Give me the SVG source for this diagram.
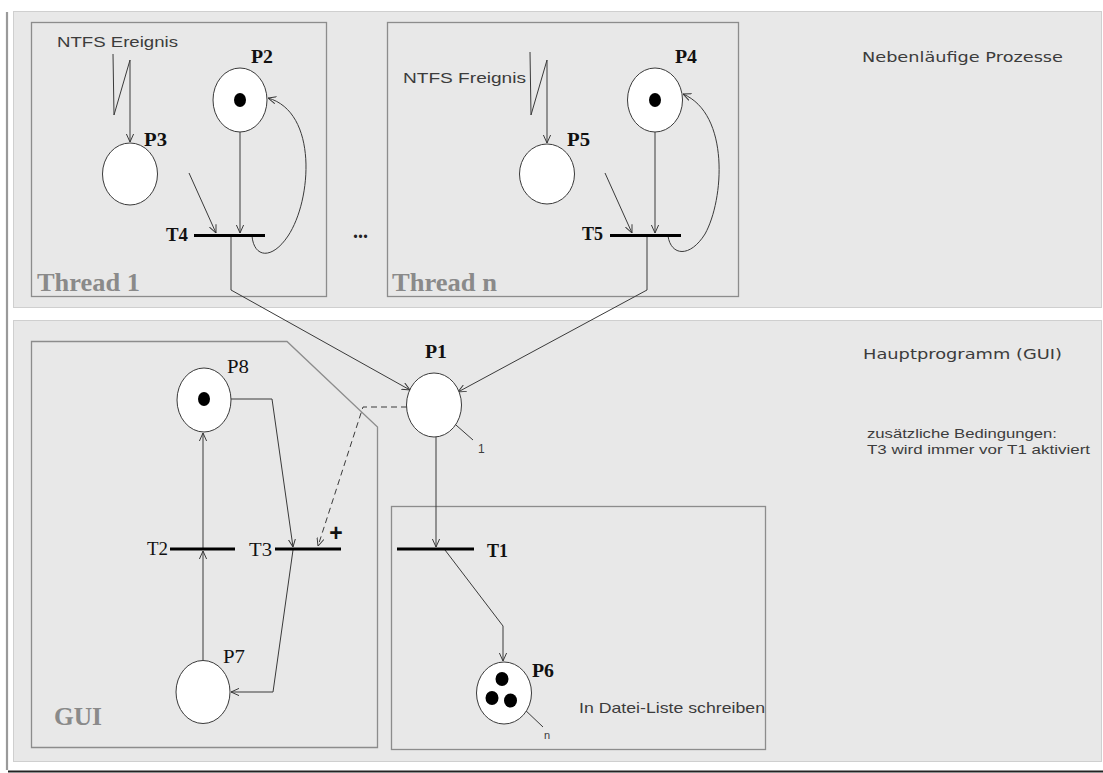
<svg xmlns="http://www.w3.org/2000/svg" width="1103" height="773" viewBox="0 0 1103 773">
  <defs>
    <marker id="arr" viewBox="0 0 10 10" refX="10" refY="5" markerWidth="8" markerHeight="8" markerUnits="userSpaceOnUse" orient="auto">
      <path d="M0,0.5 L10,5 L0,9.5" fill="none" stroke="#333" stroke-width="1.2"/>
    </marker>
    <style>
      .panel { fill: #e8e8e8; stroke: #cfcfcf; stroke-width: 1; }
      .box { fill: none; stroke: #8c8c8c; stroke-width: 1.3; }
      .place { fill: #ffffff; stroke: #3a3a3a; stroke-width: 1; }
      .token { fill: #000000; }
      .bar { stroke: #000000; stroke-width: 3.2; }
      .arc { fill: none; stroke: #3a3a3a; stroke-width: 1; }
      .dashed { stroke-dasharray: 6 4; }
      .pl { font-family: "Liberation Serif", "DejaVu Serif", serif; font-size: 19px; font-weight: bold; fill: #111; }
      .tl { font-family: "Liberation Serif", "DejaVu Serif", serif; font-size: 19px; fill: #111; }
      .group-title { font-family: "Liberation Serif", "DejaVu Serif", serif; font-weight: bold; fill: #8a8a8a; }
      .note { font-family: "Liberation Sans", Arial, sans-serif; fill: #3c3c3c; }
      .wide { font-family: "DejaVu Sans", Verdana, sans-serif; fill: #3c3c3c; }
    </style>
  </defs>

  <!-- page background and frame -->
  <rect x="0" y="0" width="1103" height="773" fill="#ffffff"/>
  <line x1="7" y1="12" x2="7" y2="770" stroke="#9a9a9a" stroke-width="2.2"/>
  <line x1="8" y1="771.5" x2="1103" y2="771.5" stroke="#222" stroke-width="2"/>

  <!-- two layers -->
  <g id="layer-threads">
    <rect class="panel" x="13.5" y="11.5" width="1088" height="296"/>
    <text class="wide" x="862" y="62" font-size="13.5" textLength="201" lengthAdjust="spacingAndGlyphs">Nebenläufige Prozesse</text>
  </g>
  <g id="layer-main">
    <rect class="panel" x="13.5" y="320.5" width="1088" height="441"/>
    <text class="wide" x="863" y="359" font-size="13.5" textLength="199" lengthAdjust="spacingAndGlyphs">Hauptprogramm (GUI)</text>
    <text class="note" x="867" y="438" font-size="13.5" textLength="190" lengthAdjust="spacingAndGlyphs">zusätzliche Bedingungen:</text>
    <text class="note" x="867" y="454" font-size="13.5" textLength="223" lengthAdjust="spacingAndGlyphs">T3 wird immer vor T1 aktiviert</text>
  </g>

  <!-- sub-areas -->
  <g id="area-thread1">
    <rect class="box" x="31.5" y="22.5" width="295" height="274"/>
    <text class="group-title" x="37" y="291" font-size="25" textLength="103" lengthAdjust="spacingAndGlyphs">Thread 1</text>
    <text class="note" x="57" y="47" font-size="15" textLength="121" lengthAdjust="spacingAndGlyphs">NTFS Ereignis</text>
  </g>
  <g id="area-threadn">
    <rect class="box" x="387.5" y="22.5" width="351" height="274"/>
    <text class="group-title" x="392" y="291" font-size="25" textLength="105" lengthAdjust="spacingAndGlyphs">Thread n</text>
    <text class="note" x="403" y="83" font-size="15" textLength="123" lengthAdjust="spacingAndGlyphs">NTFS Freignis</text>
  </g>
  <g id="area-gui">
    <path class="box" d="M31.5,341.5 L287,341.5 L377.5,427 L377.5,747.5 L31.5,747.5 Z"/>
    <text class="group-title" x="54" y="725" font-size="25" textLength="48" lengthAdjust="spacingAndGlyphs">GUI</text>
  </g>
  <g id="area-write">
    <rect class="box" x="391.5" y="506.5" width="374" height="243"/>
    <text class="note" x="579" y="713" font-size="14.5" textLength="186" lengthAdjust="spacingAndGlyphs">In Datei-Liste schreiben</text>
  </g>

  <text x="353" y="238" font-family="Liberation Serif, serif" font-size="20" font-weight="bold" fill="#222">...</text>

  <!-- arcs -->
  <g id="connectors">
    <!-- thread 1 -->
    <polyline class="arc" points="113,54 114,115 130,60 130,142" marker-end="url(#arr)"/>
    <line class="arc" x1="189" y1="173" x2="216" y2="233" marker-end="url(#arr)"/>
    <line class="arc" x1="240" y1="132" x2="240" y2="233" marker-end="url(#arr)"/>
    <path class="arc" d="M252,236 C254,258 272,260 288,236 C312,200 318,112 268,98" marker-end="url(#arr)"/>
    <polyline class="arc" points="231,236 231,290 410,390" marker-end="url(#arr)"/>

    <!-- thread n -->
    <polyline class="arc" points="530,52 531,115 547,60 547,143" marker-end="url(#arr)"/>
    <line class="arc" x1="605" y1="173" x2="632" y2="233" marker-end="url(#arr)"/>
    <line class="arc" x1="655" y1="132" x2="655" y2="233" marker-end="url(#arr)"/>
    <path class="arc" d="M668,236 C671,256 690,258 705,234 C724,200 730,114 683,94" marker-end="url(#arr)"/>
    <polyline class="arc" points="647,236 647,290 458,392" marker-end="url(#arr)"/>

    <!-- main program -->
    <line class="arc" x1="436" y1="437" x2="436" y2="547" marker-end="url(#arr)"/>
    <polyline class="arc" points="445,550 503,626 503,661" marker-end="url(#arr)"/>
    <line class="arc" x1="203" y1="660" x2="203" y2="551" marker-end="url(#arr)"/>
    <line class="arc" x1="203" y1="549" x2="203" y2="433" marker-end="url(#arr)"/>
    <polyline class="arc" points="231,399 272,399 293,547" marker-end="url(#arr)"/>
    <polyline class="arc" points="293,550 273,692 231,692" marker-end="url(#arr)"/>
    <polyline class="arc dashed" points="407,407 363,407 318,546" marker-end="url(#arr)"/>

    <!-- multiplicity ticks -->
    <line class="arc" x1="448" y1="418" x2="473" y2="440"/>
    <line class="arc" x1="523" y1="708" x2="543" y2="727"/>
  </g>

  <!-- places -->
  <g id="P2">
    <ellipse class="place" cx="240" cy="100" rx="27" ry="32"/>
    <ellipse class="token" cx="240" cy="100" rx="6" ry="7"/>
    <text class="pl" x="251" y="63" textLength="22" lengthAdjust="spacingAndGlyphs">P2</text>
  </g>
  <g id="P3">
    <ellipse class="place" cx="130" cy="174" rx="27.5" ry="31"/>
    <text class="pl" x="144" y="146" textLength="23" lengthAdjust="spacingAndGlyphs">P3</text>
  </g>
  <g id="P4">
    <ellipse class="place" cx="655" cy="100" rx="27.5" ry="32"/>
    <ellipse class="token" cx="655" cy="100" rx="6" ry="7"/>
    <text class="pl" x="675" y="63" textLength="22" lengthAdjust="spacingAndGlyphs">P4</text>
  </g>
  <g id="P5">
    <ellipse class="place" cx="547" cy="174" rx="27.5" ry="30"/>
    <text class="pl" x="567" y="146" textLength="23" lengthAdjust="spacingAndGlyphs">P5</text>
  </g>
  <g id="P1">
    <ellipse class="place" cx="434" cy="405" rx="27.5" ry="32"/>
    <text class="pl" x="425" y="358" textLength="22" lengthAdjust="spacingAndGlyphs">P1</text>
    <text class="note" x="478" y="453" font-size="12">1</text>
  </g>
  <g id="P8">
    <ellipse class="place" cx="204" cy="400" rx="27" ry="32"/>
    <ellipse class="token" cx="204" cy="399" rx="6" ry="7"/>
    <text class="tl" x="227" y="373" textLength="22" lengthAdjust="spacingAndGlyphs">P8</text>
  </g>
  <g id="P7">
    <ellipse class="place" cx="203" cy="692" rx="27" ry="31.5"/>
    <text class="tl" x="223" y="663" textLength="22" lengthAdjust="spacingAndGlyphs">P7</text>
  </g>
  <g id="P6">
    <ellipse class="place" cx="504" cy="693" rx="27.5" ry="31"/>
    <ellipse class="token" cx="502" cy="679" rx="6.5" ry="7"/>
    <ellipse class="token" cx="492" cy="698" rx="6.5" ry="7"/>
    <ellipse class="token" cx="510.5" cy="700.5" rx="6.5" ry="7"/>
    <text class="pl" x="532" y="677" textLength="22" lengthAdjust="spacingAndGlyphs">P6</text>
    <text class="note" x="544" y="739" font-size="11">n</text>
  </g>

  <!-- transitions -->
  <g id="T4">
    <line class="bar" x1="194" y1="235.5" x2="265" y2="235.5"/>
    <text class="pl" x="166" y="241" textLength="22" lengthAdjust="spacingAndGlyphs">T4</text>
  </g>
  <g id="T5">
    <line class="bar" x1="610" y1="235.5" x2="681" y2="235.5"/>
    <text class="pl" x="582" y="240" textLength="21" lengthAdjust="spacingAndGlyphs">T5</text>
  </g>
  <g id="T1">
    <line class="bar" x1="397" y1="549" x2="474" y2="549"/>
    <text class="pl" x="487" y="557" textLength="21" lengthAdjust="spacingAndGlyphs">T1</text>
  </g>
  <g id="T2">
    <line class="bar" x1="170" y1="549" x2="235" y2="549"/>
    <text class="tl" x="147" y="555" textLength="21" lengthAdjust="spacingAndGlyphs">T2</text>
  </g>
  <g id="T3">
    <line class="bar" x1="275" y1="549" x2="341" y2="549"/>
    <text class="tl" x="249" y="556" textLength="23" lengthAdjust="spacingAndGlyphs">T3</text>
    <text x="336" y="541" text-anchor="middle" font-family="Liberation Sans, sans-serif" font-size="23" font-weight="bold" fill="#111">+</text>
  </g>
</svg>
